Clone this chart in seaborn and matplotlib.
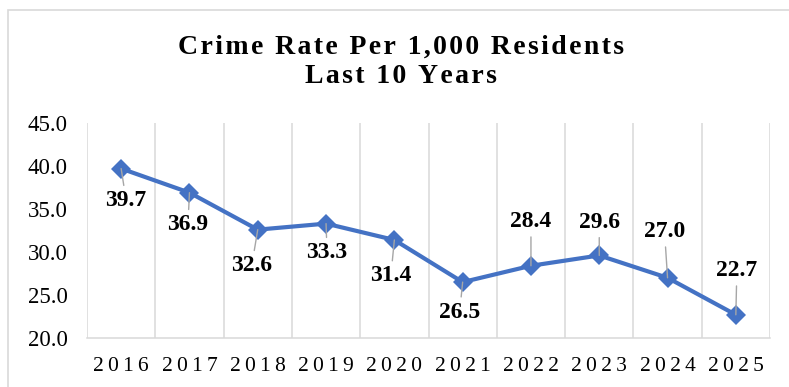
import matplotlib
matplotlib.use("Agg")
import matplotlib.pyplot as plt
from matplotlib.patches import Rectangle
import numpy as np
import pandas as pd
import seaborn as sns

# Crime rate per 1,000 residents by year
years = ["2016", "2017", "2018", "2019", "2020", "2021", "2022", "2023", "2024", "2025"]
rates = [39.7, 36.9, 32.6, 33.3, 31.4, 26.5, 28.4, 29.6, 27.0, 22.7]
y_ticks = [20, 25, 30, 35, 40, 45]
title_lines = ["Crime Rate Per 1,000 Residents", "Last 10 Years"]

# data-label offsets from each marker, in pixels (x right, y down)
label_offsets = [(5, 32), (-1.5, 32), (-6, 36), (1, 29), (-3.5, 36),
                 (-3, 30), (0, -44), (0, -33), (-3, -46), (1, -44)]

LINE_BLUE = "#4472C4"
GRID_GREY = "#d9d9d9"
LEADER_GREY = "#a6a6a6"
SERIF = ["Liberation Serif", "DejaVu Serif"]


def spaced(text, sep="\u200a"):
    """Widen letter spacing by putting a hair space between characters."""
    return sep.join(text)


sns.set_theme(style="white")
plt.rcParams["font.family"] = SERIF

W, H, DPI = 789, 387, 100
fig = plt.figure(figsize=(W / DPI, H / DPI), dpi=DPI)
fig.patch.set_facecolor("white")

left, right, top, bottom = 87, 770, 123, 338
ax = fig.add_axes([left / W, 1 - bottom / H, (right - left) / W, (bottom - top) / H])

df = pd.DataFrame({"year": years, "rate": rates})
sns.lineplot(data=df, x="year", y="rate", ax=ax, color=LINE_BLUE,
             linewidth=3.0, marker="D", markersize=10,
             markeredgecolor=LINE_BLUE, markeredgewidth=0, zorder=3)

ax.set_xlim(-0.5, len(years) - 0.5)
ax.set_ylim(y_ticks[0], y_ticks[-1])
ax.set_yticks(y_ticks)
ax.set_yticklabels([f"{v:.1f}" for v in y_ticks], fontsize=16.5, color="black")
ax.set_xticks(range(len(years)))
ax.set_xticklabels([spaced(y, "\u2009") for y in years], fontsize=15.5, color="black")
ax.set_xlabel("")
ax.set_ylabel("")

# vertical gridlines between categories
ax.set_xticks(np.arange(-0.5, len(years), 1.0), minor=True)
ax.grid(False)
ax.grid(which="minor", axis="x", color=GRID_GREY, linewidth=1.1)
ax.tick_params(which="both", length=0)
ax.tick_params(axis="y", pad=14)
ax.tick_params(axis="x", pad=14)

for side in ["left", "right", "top"]:
    ax.spines[side].set_visible(False)
ax.spines["bottom"].set_color(GRID_GREY)
ax.spines["bottom"].set_linewidth(1.1)

# data labels with leader lines
px2pt = 72 / DPI
for i, (val, (dx, dy)) in enumerate(zip(rates, label_offsets)):
    ax.annotate(f"{val:.1f}", xy=(i, val),
                xytext=(dx * px2pt, -dy * px2pt), textcoords="offset points",
                ha="center", va="center", fontsize=17, fontweight="bold",
                color="black", zorder=4,
                arrowprops=dict(arrowstyle="-", color=LEADER_GREY, lw=1.0,
                                shrinkA=1, shrinkB=0))

fig.text(401 / W, 1 - 62 / H, "\n".join(spaced(t) for t in title_lines),
         ha="center", va="center", fontsize=20, fontweight="bold",
         linespacing=1.2, color="black")

# chart frame
fig.patches.append(Rectangle((8 / W, -0.1), 1.2, 1 - 10 / H + 0.1,
                             transform=fig.transFigure, fill=False,
                             edgecolor=GRID_GREY, linewidth=1.2))

fig.savefig("out.png", dpi=DPI)
